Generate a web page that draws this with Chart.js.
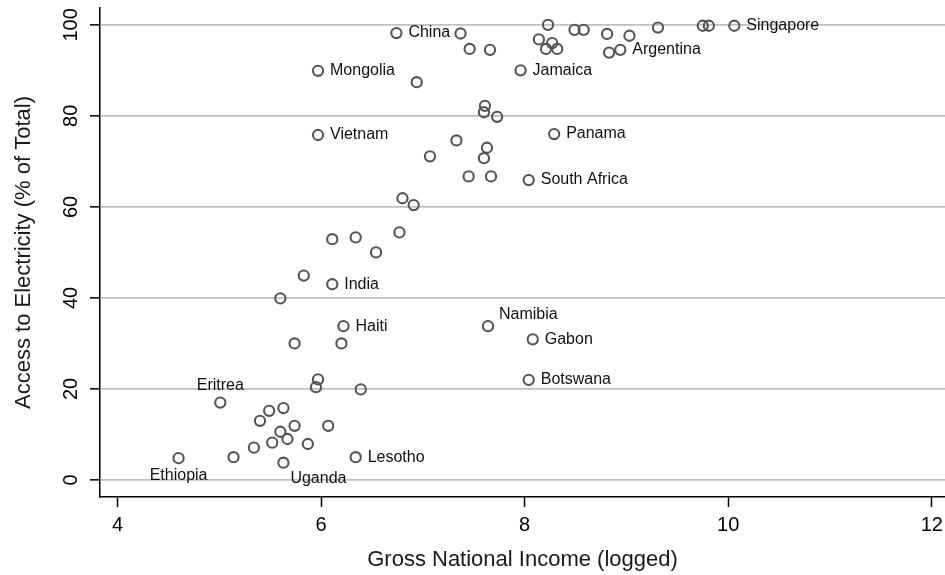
<!DOCTYPE html>
<html>
<head>
<meta charset="utf-8">
<script src="https://cdn.jsdelivr.net/npm/chart.js@4.4.1/dist/chart.umd.min.js"></script>
<style>
  body { margin: 0; background: #fff; }
</style>
</head>
<body>
<canvas id="myChart" width="945" height="575"></canvas>
<script>
const gniLogged = [
  6.74, 7.37, 7.46, 7.66, 6.94, 5.97, 7.61, 7.60, 7.73, 5.97,
  7.33, 7.63, 7.60, 7.07, 7.45, 7.67, 8.23, 8.49, 8.58, 8.81,
  9.03, 9.31, 9.75, 9.81, 10.06, 8.14, 8.27, 8.21, 8.32, 8.83,
  8.94, 7.96, 8.29, 8.04, 6.80, 6.91, 6.11, 6.34, 6.77, 6.54,
  5.83, 6.11, 5.60, 6.22, 5.74, 6.20, 7.64, 8.08, 8.04, 5.97,
  5.95, 6.39, 5.01, 5.49, 5.63, 5.40, 5.74, 6.07, 5.60, 5.67,
  5.52, 5.87, 5.34, 4.60, 5.14, 5.63, 6.34
];
const elecAccess = [
  98.2, 98.1, 94.7, 94.5, 87.4, 89.9, 82.2, 80.8, 79.8, 75.8,
  74.6, 73.0, 70.7, 71.1, 66.7, 66.7, 100, 98.9, 98.9, 98.0,
  97.6, 99.4, 99.8, 99.8, 99.8, 96.8, 96.0, 94.7, 94.7, 93.9,
  94.5, 90.0, 76.0, 65.9, 61.9, 60.4, 52.9, 53.3, 54.4, 50.0,
  44.9, 43.0, 39.9, 33.8, 30.0, 30.0, 33.8, 30.9, 22.0, 22.1,
  20.4, 19.9, 17.0, 15.2, 15.8, 13.0, 11.9, 11.9, 10.6, 9.0,
  8.2, 7.9, 7.1, 4.8, 5.0, 3.8, 5.0
];
const countryNames = [
  'China', '', '', '', '', 'Mongolia', '', '', '', 'Vietnam',
  '', '', '', '', '', '', '', '', '', '',
  '', '', '', '', 'Singapore', '', '', '', '', '',
  'Argentina', 'Jamaica', 'Panama', 'South Africa', '', '', '', '', '', '',
  '', 'India', '', 'Haiti', '', '', 'Namibia', 'Gabon', 'Botswana', '',
  '', '', 'Eritrea', '', '', '', '', '', '', '',
  '', '', '', 'Ethiopia', '', 'Uganda', 'Lesotho'
];
const xTicks = [4, 6, 8, 10, 12];
const yTicks = [0, 20, 40, 60, 80, 100];

const fontFamily = '"Liberation Sans", Arial, Helvetica, sans-serif';

// where the name sits around its point, default is to the right
const labelSpots = { Eritrea: 'top', Ethiopia: 'bottom', Uganda: 'bottomRight', Namibia: 'topRight' };

const paintLabels = {
  id: 'paintLabels',
  afterDatasetsDraw(chart) {
    const ctx = chart.ctx;
    const meta = chart.getDatasetMeta(0);
    ctx.save();
    ctx.font = '16px ' + fontFamily;
    ctx.fillStyle = '#111';
    ctx.textBaseline = 'middle';
    meta.data.forEach((point, i) => {
      const name = countryNames[i];
      if (!name) return;
      const spot = labelSpots[name] || 'right';
      let dx = 12, dy = 0, align = 'left';
      if (spot === 'top') { dx = 0; dy = -17; align = 'center'; }
      if (spot === 'bottom') { dx = 0; dy = 17; align = 'center'; }
      if (spot === 'bottomRight') { dx = 7; dy = 16; }
      if (spot === 'topRight') { dx = 11; dy = -12; }
      ctx.textAlign = align;
      ctx.fillText(name, point.x + dx, point.y + dy);
    });
    ctx.restore();
  }
};

const paintGraph = (canvasName) => {
  const ctx = document.getElementById(canvasName);
  const points = gniLogged.map((x, i) => ({ x: x, y: elecAccess[i] }));

  new Chart(ctx, {
    type: 'scatter',
    data: {
      datasets: [{
        data: points,
        pointRadius: 5.1,
        pointHoverRadius: 5.1,
        pointBorderWidth: 2.1,
        pointBorderColor: '#555555',
        pointBackgroundColor: 'rgba(0,0,0,0)'
      }]
    },
    plugins: [paintLabels],
    options: {
      responsive: false,
      devicePixelRatio: 1,
      animation: false,
      layout: { autoPadding: false, padding: { top: 8, left: 0, right: 0, bottom: 0 } },
      plugins: {
        legend: { display: false },
        tooltip: { enabled: false }
      },
      scales: {
        x: {
          type: 'linear',
          min: 3.828,
          max: 12.13,
          afterBuildTicks: s => { s.ticks = xTicks.map(v => ({ value: v })); },
          afterFit: s => { s.height = 78; s.paddingLeft = 0; s.paddingRight = 0; },
          grid: { drawOnChartArea: false, drawTicks: true, tickLength: 10, tickColor: '#000', tickWidth: 1.5 },
          border: { display: true, color: '#000', width: 1.5 },
          ticks: { color: '#000', padding: 6, maxRotation: 0, font: { family: fontFamily, size: 20 } },
          title: {
            display: true,
            text: 'Gross National Income (logged)',
            color: '#1a1a1a',
            font: { family: fontFamily, size: 22 },
            padding: { top: 0, bottom: 2 }
          }
        },
        y: {
          type: 'linear',
          min: -3.74,
          max: 103.7,
          afterBuildTicks: s => { s.ticks = yTicks.map(v => ({ value: v })); },
          afterFit: s => { s.width = 100; s.paddingTop = 0; s.paddingBottom = 0; },
          grid: { color: '#c0c0c0', lineWidth: 1.7, tickLength: 10, tickColor: '#000', tickWidth: 1.5 },
          border: { display: true, color: '#000', width: 1.5 },
          ticks: { color: '#000', padding: 2, minRotation: 90, maxRotation: 90, crossAlign: 'center', font: { family: fontFamily, size: 20 } },
          title: {
            display: true,
            text: 'Access to Electricity (% of Total)',
            color: '#1a1a1a',
            font: { family: fontFamily, size: 22 },
            padding: { top: 11, bottom: 0 }
          }
        }
      }
    }
  });
};
paintGraph('myChart');
</script>
</body>
</html>
